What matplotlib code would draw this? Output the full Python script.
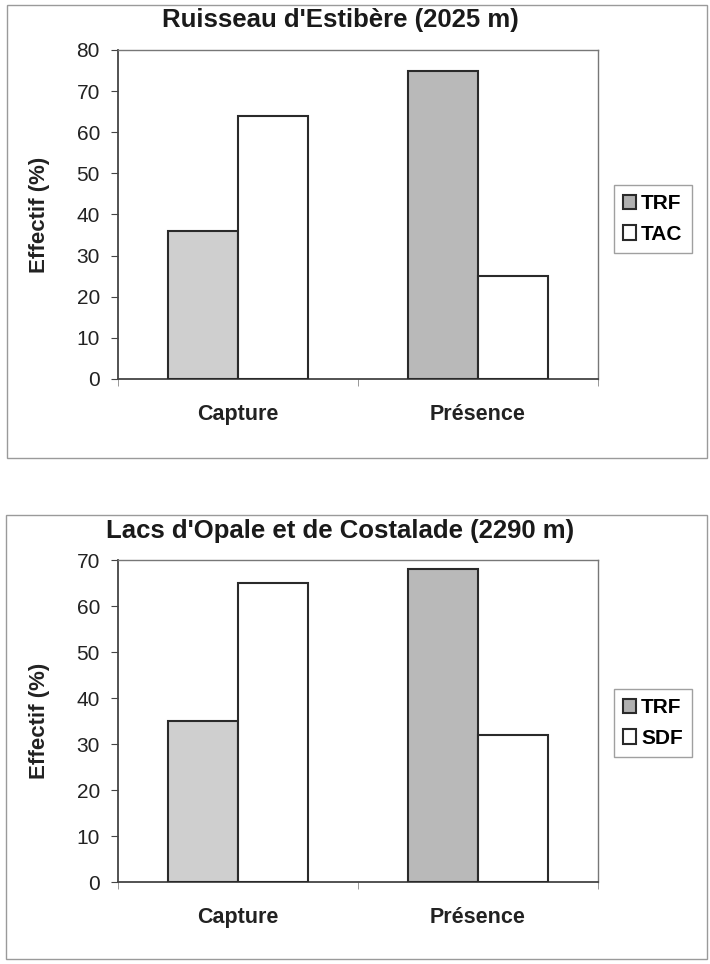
import numpy as np
import matplotlib.pyplot as plt
from matplotlib.patches import Rectangle

plt.rcParams['font.family'] = ['Liberation Sans', 'DejaVu Sans']

# données
categories = ['Capture', 'Présence']
titles = ["Ruisseau d'Estibère (2025 m)", "Lacs d'Opale et de Costalade (2290 m)"]
trf_values = [[36, 75], [35, 68]]
other_values = [[64, 25], [65, 32]]
other_names = ['TAC', 'SDF']
y_max = [80, 70]

W, H = 710, 964


def fig_box(x0, y0, x1, y1):
    # pixels -> coordonnées figure
    return [x0 / W, 1 - y1 / H, (x1 - x0) / W, (y1 - y0) / H]


fig = plt.figure(figsize=(7.1, 9.64), dpi=100)

# cadres des deux graphiques
for (x0, y0, x1, y1) in [(7, 5, 707, 458), (6, 515, 707, 959)]:
    fig.patches.append(Rectangle((x0 / W, 1 - y1 / H), (x1 - x0) / W, (y1 - y0) / H,
                                 transform=fig.transFigure, fill=False,
                                 edgecolor='#9a9a9a', linewidth=1.0))

axes_px = [(118, 50, 598, 379), (118, 560, 598, 882)]
title_y = [20, 531]
legend_y = [219, 723]

x = np.arange(len(categories))
w = 0.29
trf_colors = ['#cfcfcf', '#b9b9b9']

for i in range(2):
    ax = fig.add_axes(fig_box(*axes_px[i]))
    ax.bar(x - w / 2, trf_values[i], width=w, color=trf_colors,
           edgecolor='#2a2a2a', linewidth=1.5, label='TRF', zorder=3)
    ax.bar(x + w / 2, other_values[i], width=w, color='white',
           edgecolor='#2a2a2a', linewidth=1.5, label=other_names[i], zorder=3)

    ax.set_xlim(-0.5, 1.5)
    ax.set_ylim(0, y_max[i])
    ax.set_yticks(np.arange(0, y_max[i] + 1, 10))
    ax.set_xticks(x)
    ax.set_xticklabels(categories, fontsize=15.5, fontweight='bold', color='#222222')
    ax.set_xticks([-0.5, 0.5, 1.5], minor=True)
    ax.tick_params(axis='x', which='major', length=0, pad=18)
    ax.tick_params(axis='x', which='minor', length=5, color='#888888')
    ax.tick_params(axis='y', length=5, labelsize=15, pad=8, color='#444444',
                   labelcolor='#222222')

    for s in ['top', 'right']:
        ax.spines[s].set_color('#777777')
        ax.spines[s].set_linewidth(1.0)
    for s in ['left', 'bottom']:
        ax.spines[s].set_color('#444444')
        ax.spines[s].set_linewidth(1.3)

    fig.text(40 / W, 1 - (axes_px[i][1] + axes_px[i][3]) / 2 / H, 'Effectif (%)',
             rotation=90, ha='center', va='center', fontsize=16,
             fontweight='bold', color='#222222')
    fig.text(340 / W, 1 - title_y[i] / H, titles[i], ha='center', va='center',
             fontsize=18.5, fontweight='bold', color='#1a1a1a')

    leg = ax.legend(loc='center left', bbox_to_anchor=(614 / W, 1 - legend_y[i] / H),
                    bbox_transform=fig.transFigure, fancybox=False, frameon=True,
                    handlelength=0.6, handleheight=0.7, handletextpad=0.25,
                    labelspacing=0.55, borderpad=0.45, borderaxespad=0,
                    prop={'weight': 'bold', 'size': 15})
    leg.get_frame().set_edgecolor('#888888')
    leg.get_frame().set_linewidth(1.0)
    leg.legend_handles[0].set_facecolor('#b0b0b0')

fig.savefig('out.png', dpi=100)
